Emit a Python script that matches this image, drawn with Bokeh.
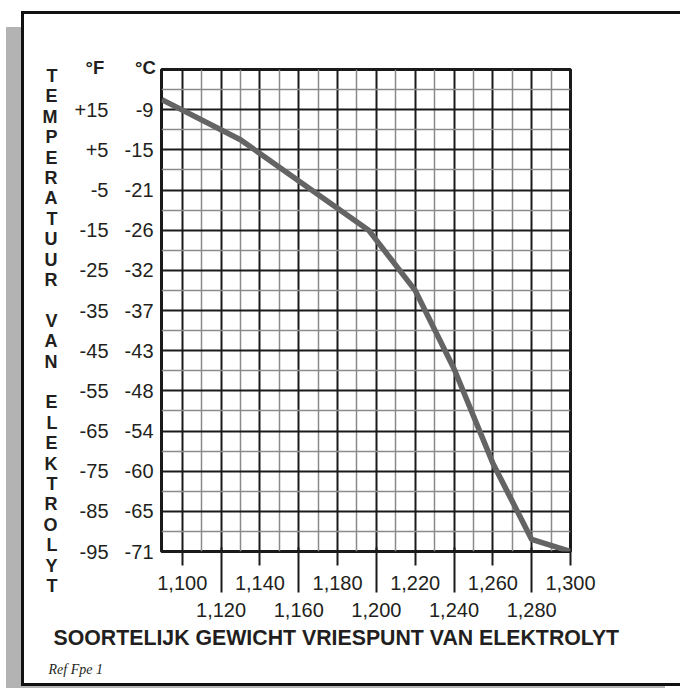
from bokeh.plotting import figure
from bokeh.models import FixedTicker, LinearAxis, Range1d, Grid, Title, InlineStyleSheet
from bokeh.embed import file_html
from bokeh.resources import INLINE

# ---- data ----
gravity = [1089.5, 1130, 1196, 1220, 1240, 1260, 1280, 1300]
freeze_f = [17.5, 7.5, -15, -30, -49.5, -73, -92, -95]

f_ticks = [15, 5, -5, -15, -25, -35, -45, -55, -65, -75, -85, -95]
f_labels = ["+15", "+5", "-5", "-15", "-25", "-35", "-45", "-55", "-65", "-75", "-85", "-95"]
c_labels = ["-9", "-15", "-21", "-26", "-32", "-37", "-43", "-48", "-54", "-60", "-65", "-71"]
f_header = "°F"
c_header = "°C"
x_row1 = [1100, 1140, 1180, 1220, 1260, 1300]
x_row1_labels = ["1,100", "1,140", "1,180", "1,220", "1,260", "1,300"]
x_row2 = [1120, 1160, 1200, 1240, 1280]
x_row2_labels = ["1,120", "1,160", "1,200", "1,240", "1,280"]
x_major_grid = [1100, 1120, 1140, 1160, 1180, 1200, 1220, 1240, 1260, 1280]
x_minor_grid = [1110, 1130, 1150, 1170, 1190, 1210, 1230, 1250, 1270, 1290]
y_major_grid = [-85, -75, -65, -55, -45, -35, -25, -15, -5, 5, 15]
y_minor_grid = [-90, -80, -70, -60, -50, -40, -30, -20, -10, 0, 10, 20]

y_title = "TEMPERATUUR VAN ELEKTROLYT"
x_title = "SOORTELIJK GEWICHT VRIESPUNT VAN ELEKTROLYT"
ref_text = "Ref Fpe 1"

X0, X1 = 1089.3, 1300
Y0, Y1 = -95, 25
W, H = 680, 688
BL, BT, FW, FH = 161, 69, 409, 482
INK = "#231f20"

frame_css = InlineStyleSheet(css="""
:host { position: relative; }
:host::before {
  content: ""; position: absolute; box-sizing: border-box;
  left: 6px; top: 27px; width: 659px; height: 661px;
  border-left: 15px solid #b3b3b3; border-bottom: 2px solid #b3b3b3;
  pointer-events: none; z-index: 5;
}
:host::after {
  content: ""; position: absolute; box-sizing: border-box;
  left: 21px; top: 11px; width: 659px; height: 675px;
  border-left: 3px solid #111; border-top: 3px solid #111; border-bottom: 3px solid #111;
  pointer-events: none; z-index: 6;
}
""")

p = figure(width=W, height=H, output_backend="svg", toolbar_location=None,
           x_range=Range1d(X0, X1), y_range=Range1d(Y0, Y1),
           min_border_left=BL, min_border_top=BT,
           min_border_right=W - BL - FW, min_border_bottom=H - BT - FH,
           x_axis_type=None, y_axis_type=None,
           background_fill_color="white", border_fill_color="white",
           stylesheets=[frame_css])
p.outline_line_color = "#1a1a1a"
p.outline_line_width = 3

# grids
p.add_layout(Grid(dimension=0, ticker=FixedTicker(ticks=x_major_grid, minor_ticks=x_minor_grid),
                  grid_line_color="#1a1a1a", grid_line_width=2,
                  minor_grid_line_color="#8a8a8a", minor_grid_line_width=1.5))
p.add_layout(Grid(dimension=1, ticker=FixedTicker(ticks=y_major_grid, minor_ticks=y_minor_grid),
                  grid_line_color="#1a1a1a", grid_line_width=2,
                  minor_grid_line_color="#8a8a8a", minor_grid_line_width=1.5))

p.line(gravity, freeze_f, line_color="#646464", line_width=5.5, line_join="round")

font = "Liberation Sans"
def ax_common(ax):
    ax.major_label_text_font = font
    ax.major_label_text_font_size = "20px"
    ax.major_label_text_color = INK
    ax.axis_line_color = None
    ax.minor_tick_line_color = None
    return ax

yc = ax_common(LinearAxis(ticker=FixedTicker(ticks=f_ticks),
                          major_label_overrides=dict(zip(f_ticks, c_labels))))
yc.major_tick_line_color = None
yc.major_label_standoff = 2
p.add_layout(yc, "left")

yf = ax_common(LinearAxis(ticker=FixedTicker(ticks=f_ticks),
                          major_label_overrides=dict(zip(f_ticks, f_labels))))
yf.major_tick_line_color = None
yf.major_label_standoff = 7
yf.axis_label = "\n".join([" ", " "] + list(y_title))
yf.axis_label_orientation = "horizontal"
yf.axis_label_standoff = 14
yf.axis_label_text_font = font
yf.axis_label_text_font_style = "bold"
yf.axis_label_text_font_size = "18px"
yf.axis_label_text_line_height = 1.02
yf.axis_label_text_color = INK
yf.axis_label_text_align = "center"
p.add_layout(yf, "left")

xa1 = ax_common(LinearAxis(ticker=FixedTicker(ticks=x_row1),
                           major_label_overrides=dict(zip(x_row1, x_row1_labels))))
xa1.major_tick_out = 14
xa1.major_tick_in = 0
xa1.major_tick_line_width = 2
xa1.major_tick_line_color = "#1a1a1a"
xa1.major_label_standoff = 10
p.add_layout(xa1, "below")

xa2 = ax_common(LinearAxis(ticker=FixedTicker(ticks=x_row2),
                           major_label_overrides=dict(zip(x_row2, x_row2_labels))))
xa2.major_tick_out = 0
xa2.major_tick_in = 45
xa2.major_tick_line_width = 2
xa2.major_tick_line_color = "#1a1a1a"
xa2.major_label_standoff = 10
p.add_layout(xa2, "below")

# unit headers above the two temperature columns
nb = "\u00a0"
p.add_layout(Title(text=f_header + nb * 6 + c_header, align="left", offset=85 - BL,
                   standoff=-16, vertical_align="bottom",
                   text_font=font, text_font_style="bold", text_font_size="18.5px",
                   text_color=INK), "above")

p.add_layout(Title(text=x_title, align="left", offset=53 - BL, standoff=8,
                   text_font=font, text_font_style="bold", text_font_size="21.3px",
                   text_color=INK), "below")
p.add_layout(Title(text=ref_text, align="left", offset=48 - BL, standoff=12,
                   text_font="Liberation Serif", text_font_style="italic",
                   text_font_size="14px", text_color=INK), "below")

open("out.html", "w").write(file_html(p, INLINE))
